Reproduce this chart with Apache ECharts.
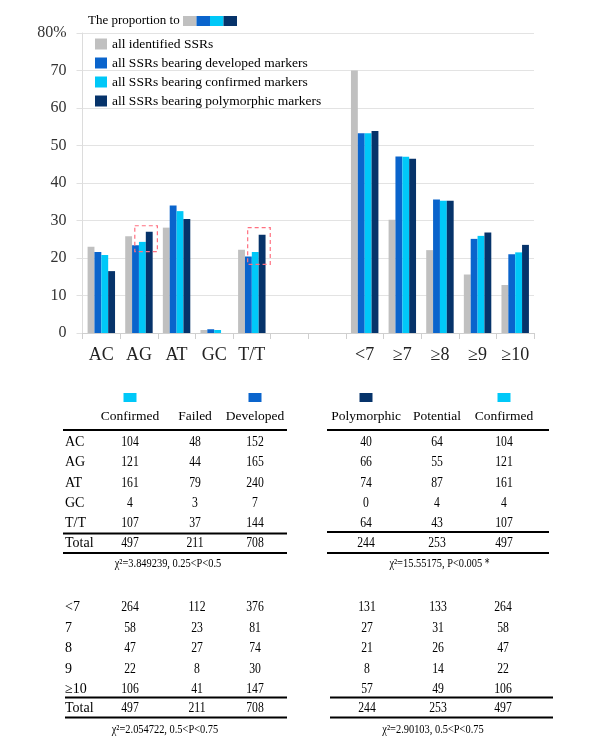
<!DOCTYPE html>
<html>
<head>
<meta charset="utf-8">
<script src="https://cdn.jsdelivr.net/npm/echarts@6/dist/echarts.min.js"></script>
<style>html,body{margin:0;padding:0;background:#fff}#c{width:600px;height:756px}</style>
</head>
<body>
<div id="c"></div>
<script>
// ---- bar chart data (percent) ----
var categories = ['AC', 'AG', 'AT', 'GC', 'T/T', ' ', '  ', '<7', '≥7', '≥8', '≥9', '≥10'];
var seriesNames = ['all identified SSRs', 'all SSRs bearing developed markers', 'all SSRs bearing confirmed markers', 'all SSRs bearing polymorphic markers'];
var identified  = [23.0, 25.8, 28.1, 0.8, 22.2, null, null, 70.0, 30.2, 22.1, 15.6, 12.8];
var developed   = [21.6, 23.4, 34.0, 1.0, 20.4, null, null, 53.3, 47.1, 35.6, 25.1, 21.0];
var confirmed   = [20.8, 24.3, 32.5, 0.8, 21.6, null, null, 53.3, 47.0, 35.3, 25.9, 21.5];
var polymorphic = [16.5, 27.0, 30.4, 0.0, 26.2, null, null, 53.9, 46.5, 35.3, 26.8, 23.5];
var yTicks = [0, 10, 20, 30, 40, 50, 60, 70, 80];

// ---- table data ----
var motifRows = ['AC', 'AG', 'AT', 'GC', 'T/T'];
var motifHeadersL = ['Confirmed', 'Failed', 'Developed'];
var motifConfirmed = [104, 121, 161, 4, 107];
var motifFailed = [48, 44, 79, 3, 37];
var motifDeveloped = [152, 165, 240, 7, 144];
var motifTotalsL = [497, 211, 708];
var motifHeadersR = ['Polymorphic', 'Potential', 'Confirmed'];
var motifPolymorphic = [40, 66, 74, 0, 64];
var motifPotential = [64, 55, 87, 4, 43];
var motifTotalsR = [244, 253, 497];
var lenRows = ['<7', '7', '8', '9', '≥10'];
var lenConfirmed = [264, 58, 47, 22, 106];
var lenFailed = [112, 23, 27, 8, 41];
var lenDeveloped = [376, 81, 74, 30, 147];
var lenTotalsL = [497, 211, 708];
var lenPolymorphic = [131, 27, 21, 8, 57];
var lenPotential = [133, 31, 26, 14, 49];
var lenTotalsR = [244, 253, 497];
var chiTexts = ['χ²=3.849239, 0.25<P<0.5', 'χ²=15.55175, P<0.005＊', 'χ²=2.054722, 0.5<P<0.75', 'χ²=2.90103, 0.5<P<0.75'];

// dashed highlight boxes (category, value range)
var highlights = [
  { cat: 'AG', top: 28.6, bottom: 21.7 },
  { cat: 'T/T', top: 28.1, bottom: 18.3 }
];

var colors = ['#c0c0c0', '#0a64cc', '#00c8f8', '#06336a'];
var serif = '"Liberation Serif", "DejaVu Serif", serif';

var chart = echarts.init(document.getElementById('c'));

function mkSeries(name, data, i) {
  return {
    name: name, type: 'bar', data: data,
    barGap: '0%', barCategoryGap: '27%',
    itemStyle: { color: colors[i] },
    animation: false
  };
}

var graphics = [];
// legend title with colour strip
graphics.push({ type: 'text', left: 88, top: 14, style: { text: 'The proportion to', font: '13px ' + serif, fill: '#000' } });
for (var k = 0; k < 4; k++) {
  graphics.push({ type: 'rect', shape: { x: 183 + k * 13.5, y: 16, width: 13.5, height: 10 }, style: { fill: colors[k] } });
}

function txt(x, y, s, size, scaleX, align) {
  graphics.push({
    type: 'text', x: x, y: y, scaleX: scaleX || 1,
    style: { text: String(s), font: size + 'px ' + serif, fill: '#000', textAlign: align || 'center', textVerticalAlign: 'middle' }
  });
}
function rule(x1, x2, y, w) {
  graphics.push({ type: 'line', shape: { x1: x1, y1: y, x2: x2, y2: y }, style: { stroke: '#000', lineWidth: w || 1.6 } });
}
function sq(cx, y, color) {
  graphics.push({ type: 'rect', shape: { x: cx - 6.5, y: y, width: 13, height: 9 }, style: { fill: color } });
}

function table(opt) {
  var i, c;
  if (opt.headers) {
    for (c = 0; c < 3; c++) txt(opt.cols[c], opt.headerY, opt.headers[c], 13.5, 1);
  }
  if (opt.squares) {
    opt.squares.forEach(function (s) { sq(opt.cols[s[0]], opt.squareY, s[1]); });
  }
  if (opt.topRule) rule(opt.x1, opt.x2, opt.topRule, 2);
  for (i = 0; i < opt.rowYs.length; i++) {
    if (opt.rowLabels) txt(opt.labelX, opt.rowYs[i], opt.rowLabels[i], 14, 1, 'left');
    for (c = 0; c < 3; c++) txt(opt.cols[c], opt.rowYs[i], opt.columns[c][i], 15, 0.78);
  }
  rule(opt.x1, opt.x2, opt.rule2, 1.8);
  if (opt.rowLabels) txt(opt.labelX, opt.totalY, 'Total', 14, 1, 'left');
  for (c = 0; c < 3; c++) txt(opt.cols[c], opt.totalY, opt.totals[c], 15, 0.78);
  rule(opt.x1, opt.x2, opt.rule3, 1.8);
  txt(opt.chiX, opt.chiY, opt.chi, 13, 0.8);
}

var topRows = [442, 462, 483, 503, 523];
var botRows = [607, 628, 648, 669, 689];

table({ headers: motifHeadersL, headerY: 416, squares: [[0, colors[2]], [2, colors[1]]], squareY: 393,
  cols: [130, 195, 255], labelX: 65, rowLabels: motifRows, rowYs: topRows,
  columns: [motifConfirmed, motifFailed, motifDeveloped], totals: motifTotalsL, totalY: 543.5,
  x1: 63, x2: 287, topRule: 430, rule2: 533.5, rule3: 553, chi: chiTexts[0], chiX: 168, chiY: 564 });
table({ headers: motifHeadersR, headerY: 416, squares: [[0, colors[3]], [2, colors[2]]], squareY: 393,
  cols: [366, 437, 504], rowYs: topRows,
  columns: [motifPolymorphic, motifPotential, motifConfirmed], totals: motifTotalsR, totalY: 543.5,
  x1: 327, x2: 549, topRule: 430, rule2: 532, rule3: 553, chi: chiTexts[1], chiX: 441, chiY: 564 });
table({ cols: [130, 197, 255], labelX: 65, rowLabels: lenRows, rowYs: botRows,
  columns: [lenConfirmed, lenFailed, lenDeveloped], totals: lenTotalsL, totalY: 708,
  x1: 65, x2: 287, rule2: 697.5, rule3: 717.5, chi: chiTexts[2], chiX: 165, chiY: 730 });
table({ cols: [367, 438, 503], rowYs: botRows,
  columns: [lenPolymorphic, lenPotential, lenConfirmed], totals: lenTotalsR, totalY: 708,
  x1: 330, x2: 553, rule2: 697.5, rule3: 717.5, chi: chiTexts[3], chiX: 433, chiY: 730 });

var option = {
  animation: false,
  backgroundColor: '#fff',
  color: colors,
  grid: { left: 82.5, right: 66, top: 33, bottom: 423 },
  legend: {
    data: seriesNames, orient: 'vertical', left: 90, top: 32,
    itemWidth: 12, itemHeight: 11, itemGap: 5, icon: 'rect',
    textStyle: { fontFamily: serif, fontSize: 13.5, color: '#000' },
    selectedMode: false
  },
  xAxis: {
    type: 'category', data: categories,
    axisLine: { lineStyle: { color: '#cfcfcf' } },
    axisTick: { show: true, length: 6, lineStyle: { color: '#cfcfcf' } },
    axisLabel: { fontFamily: serif, fontSize: 18, color: '#222', margin: 13, interval: 0 }
  },
  yAxis: {
    type: 'value', min: yTicks[0], max: yTicks[yTicks.length - 1], interval: yTicks[1] - yTicks[0],
    axisLine: { show: true, lineStyle: { color: '#dcdcdc' } },
    axisTick: { show: true, length: 6, lineStyle: { color: '#e0e0e0' } },
    splitLine: { lineStyle: { color: '#e3e3e3' } },
    axisLabel: { fontFamily: serif, fontSize: 16, color: '#333', margin: 16,
      formatter: function (v) { return v === yTicks[yTicks.length - 1] ? v + '%' : String(v); } }
  },
  series: [
    mkSeries(seriesNames[0], identified, 0),
    mkSeries(seriesNames[1], developed, 1),
    mkSeries(seriesNames[2], confirmed, 2),
    mkSeries(seriesNames[3], polymorphic, 3)
  ],
  graphic: graphics
};
chart.setOption(option);

// dashed highlight boxes positioned via the chart's own scales
var c0 = chart.convertToPixel({ xAxisIndex: 0 }, 0);
var c1 = chart.convertToPixel({ xAxisIndex: 0 }, 1);
var band = c1 - c0;
var boxes = highlights.map(function (h) {
  var cx = chart.convertToPixel({ xAxisIndex: 0 }, categories.indexOf(h.cat));
  var yT = chart.convertToPixel({ yAxisIndex: 0 }, h.top);
  var yB = chart.convertToPixel({ yAxisIndex: 0 }, h.bottom);
  var x1 = cx - 0.11 * band, x2 = cx + 0.49 * band;
  return {
    type: 'rect', z: 100,
    shape: { x: x1, y: yT, width: x2 - x1, height: yB - yT },
    style: { fill: 'none', stroke: '#ff7080', lineWidth: 1.2, lineDash: [4, 3] }
  };
});
chart.setOption({ graphic: graphics.concat(boxes) });
</script>
</body>
</html>
